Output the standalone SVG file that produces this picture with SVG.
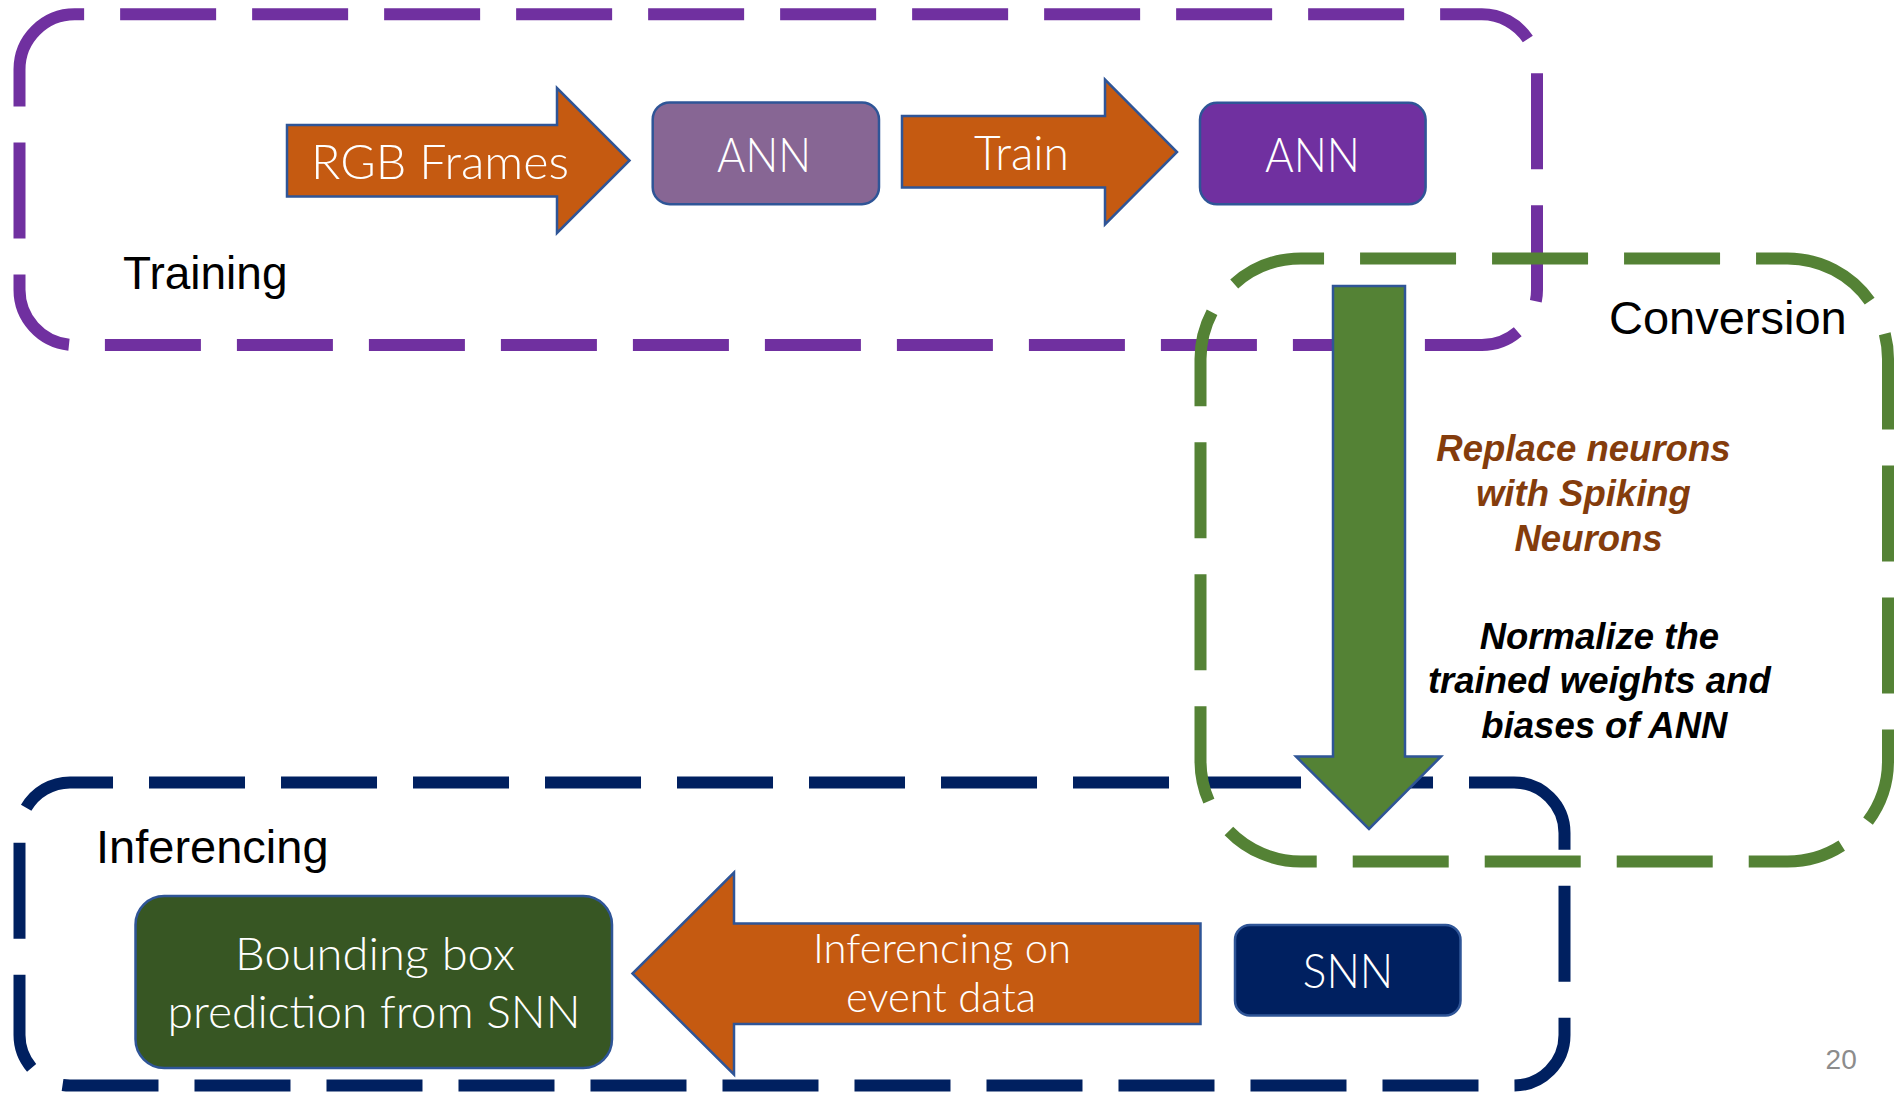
<svg xmlns="http://www.w3.org/2000/svg" width="1896" height="1095" viewBox="0 0 1896 1095">
  <style>
    .frame { fill: none; stroke-width: 12; stroke-dasharray: 96 36; }
    .purple { stroke: #7030A0; }
    .navy { stroke: #002060; }
    .green { stroke: #548235; }
    .shape { stroke: #2F5597; stroke-width: 2.5; }
    .orange { fill: #C55A11; }
    .lbl { font-family: Lato, "Liberation Sans", Arial, sans-serif; font-weight: 300; fill: #ffffff; text-anchor: middle; }
    .title { font-family: "Liberation Sans", Arial, sans-serif; fill: #000000; }
    .note { font-family: "Liberation Sans", Arial, sans-serif; font-weight: bold; font-style: italic; text-anchor: middle; font-size: 36.5px; }
  </style>

  <!-- stage frames: dashed rounded rectangles -->
  <g id="stages">
    <g id="training">
      <path class="frame purple" d="M19.5,69.5 A55.2,55.2 0 0 1 74.7,14.3 H1481.8 A55.2,55.2 0 0 1 1537,69.5 V289.8 A55.2,55.2 0 0 1 1481.8,345 H74.7 A55.2,55.2 0 0 1 19.5,289.8 Z"/>
      <text class="title" x="123" y="289" font-size="46">Training</text>
    </g>
    <g id="inferencing">
      <path class="frame navy" d="M1514,782.4 A50.5,50.5 0 0 1 1564.5,832.9 V1035 A50.5,50.5 0 0 1 1514,1085.5 H70 A50.5,50.5 0 0 1 19.5,1035 V832.9 A50.5,50.5 0 0 1 70,782.4 Z"/>
      <text class="title" x="96" y="863" font-size="47">Inferencing</text>
    </g>
    <g id="conversion">
      <path class="frame green" d="M1787.5,258.5 A100.5,100.5 0 0 1 1888,359 V761 A100.5,100.5 0 0 1 1787.5,861.5 H1301 A100.5,100.5 0 0 1 1200.5,761 V359 A100.5,100.5 0 0 1 1301,258.5 Z"/>
      <text class="title" x="1609" y="334" font-size="47">Conversion</text>
    </g>
  </g>

  <!-- model nodes -->
  <g id="ann-untrained">
    <rect class="shape" x="652.7" y="102.5" width="226.3" height="101.7" rx="17" fill="#876694"/>
    <text class="lbl" x="764" y="171.7" font-size="48" textLength="94" lengthAdjust="spacingAndGlyphs">ANN</text>
  </g>
  <g id="ann-trained">
    <rect class="shape" x="1200" y="102.8" width="225.6" height="101.5" rx="17" fill="#7030A0"/>
    <text class="lbl" x="1312.5" y="171.7" font-size="48" textLength="95" lengthAdjust="spacingAndGlyphs">ANN</text>
  </g>
  <g id="snn">
    <rect class="shape" x="1235" y="925" width="225.5" height="90.5" rx="15" fill="#002060"/>
    <text class="lbl" x="1348" y="987.7" font-size="48" textLength="90.5" lengthAdjust="spacingAndGlyphs">SNN</text>
  </g>
  <g id="bbox-prediction">
    <rect class="shape" x="135.5" y="896" width="476.5" height="172" rx="28.7" fill="#375623"/>
    <text class="lbl" x="375" y="970" font-size="45" textLength="280" lengthAdjust="spacingAndGlyphs">Bounding box</text>
    <text class="lbl" x="374" y="1028.3" font-size="45" textLength="413" lengthAdjust="spacingAndGlyphs">prediction from SNN</text>
  </g>

  <!-- block-arrow connectors -->
  <g id="connectors">
    <g id="rgb-frames">
      <polygon class="shape orange" points="287,125 557,125 557,88 629.5,160.5 557,233 557,196.5 287,196.5"/>
      <text class="lbl" x="440" y="179" font-size="48" textLength="258" lengthAdjust="spacingAndGlyphs">RGB Frames</text>
    </g>
    <g id="train">
      <polygon class="shape orange" points="902,116 1105,116 1105,79.5 1177,152 1105,224.5 1105,187.5 902,187.5"/>
      <text class="lbl" x="1021.5" y="170" font-size="48" textLength="95" lengthAdjust="spacingAndGlyphs">Train</text>
    </g>
    <g id="convert">
      <polygon class="shape" fill="#548235" points="1333,286 1405,286 1405,756.5 1441,756.5 1369,829 1296,756.5 1333,756.5"/>
      <text class="note" fill="#843C0C">
        <tspan x="1588.5" y="461">Replace neurons</tspan>
        <tspan x="1588.5" y="506">with Spiking</tspan>
        <tspan x="1588.5" y="551">Neurons</tspan>
      </text>
      <text class="note" fill="#000000">
        <tspan x="1604.4" y="648.6">Normalize the</tspan>
        <tspan x="1604.4" y="693.4">trained weights and</tspan>
        <tspan x="1604.4" y="738.4">biases of ANN</tspan>
      </text>
    </g>
    <g id="infer">
      <polygon class="shape orange" points="1200.5,923.5 734,923.5 734,872.5 632.5,973.5 734,1074.5 734,1024 1200.5,1024"/>
      <text class="lbl" x="942" y="963" font-size="42" textLength="258" lengthAdjust="spacingAndGlyphs">Inferencing on</text>
      <text class="lbl" x="941" y="1012" font-size="42" textLength="190" lengthAdjust="spacingAndGlyphs">event data</text>
    </g>
  </g>

  <text x="1825.6" y="1069" font-family="'Liberation Sans', Arial, sans-serif" font-size="28" fill="#8C8C8C">20</text>
</svg>
